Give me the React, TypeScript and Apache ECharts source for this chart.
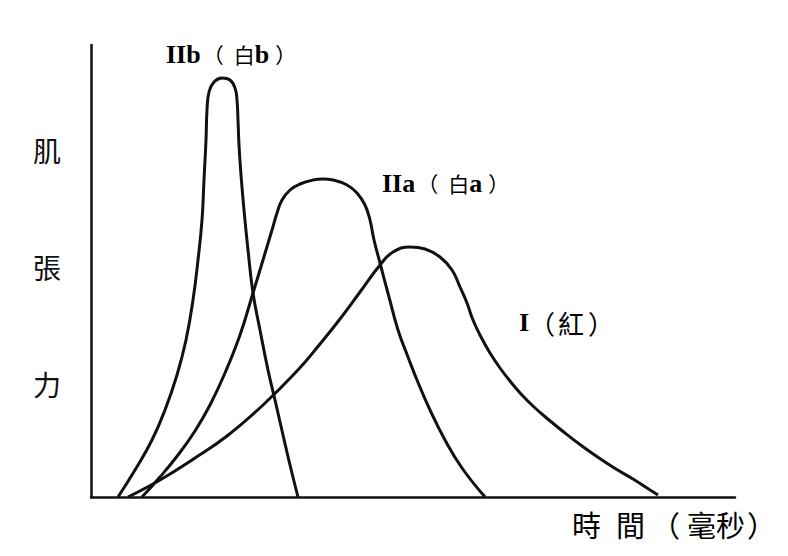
import React, { useEffect, useRef } from 'react';
import * as echarts from 'echarts';

// Muscle tension curves (time in arbitrary units, tension in arbitrary units)
const curveIIb: [number, number][] = [
  [27, 0], [44, 27], [61, 57], [74, 87], [86, 122], [95, 157], [102, 197], [107, 237],
  [111, 277], [113, 317], [115, 357], [116, 387], [118, 405], [123, 415], [131, 419],
  [139, 417], [144, 409], [146, 397], [147, 377], [148, 352], [150, 322], [153, 287],
  [157, 247], [162, 204], [169, 167], [177, 127], [184, 97], [192, 62], [199, 32], [207, 0],
];
const curveIIa: [number, number][] = [
  [51, 0], [69, 20], [87, 42], [104, 66], [119, 92], [134, 124], [149, 162], [162, 204],
  [172, 237], [181, 267], [186, 284], [191, 297], [199, 307], [209, 313], [222, 317],
  [232, 318], [242, 317], [256, 312], [266, 304], [274, 292], [279, 277], [283, 257],
  [289, 234], [298, 200], [307, 167], [317, 140], [326, 117], [339, 87], [354, 57],
  [371, 29], [394, 0],
];
const curveI: [number, number][] = [
  [37, 0], [69, 17], [104, 39], [136, 61], [171, 91], [206, 126], [229, 153], [249, 178],
  [269, 205], [289, 232], [302, 245], [319, 250], [334, 248], [349, 240], [361, 227],
  [369, 210], [376, 194], [382, 177], [390, 160], [399, 144], [409, 129], [419, 116],
  [430, 103], [443, 90], [458, 77], [474, 64], [491, 51], [508, 39], [525, 28], [542, 18],
  [556, 9], [567, 2],
];
const yLabelChars = ['肌', '張', '力'];

const CJK = "'Noto Sans CJK TC', 'Noto Sans CJK JP', sans-serif";
const SERIF = "'Liberation Serif', 'DejaVu Serif', serif";

export default function App() {
  const ref = useRef<HTMLDivElement>(null);
  useEffect(() => {
    document.body.style.margin = '0';
    const chart = echarts.init(ref.current!, null, { renderer: 'svg' });
    const lineSeries = (name: string, data: [number, number][]) => ({
      type: 'line',
      name,
      data,
      smooth: 0.45,
      symbol: 'none',
      lineStyle: { color: '#111', width: 3 },
    });
    const rich = {
      r: { fontFamily: SERIF, fontWeight: 'bold', fontSize: 26, color: '#111', verticalAlign: 'middle' },
      c: { fontFamily: CJK, fontSize: 21, color: '#111', verticalAlign: 'middle' },
      o: { fontFamily: CJK, fontSize: 21, color: '#111', verticalAlign: 'middle', padding: [0, 10, 0, 2] },
      e: { fontFamily: CJK, fontSize: 21, color: '#111', verticalAlign: 'middle', padding: [0, 0, 0, 6] },
      a: { fontFamily: CJK, fontSize: 29, color: '#111', verticalAlign: 'middle' },
      s: { fontFamily: CJK, fontSize: 29, color: '#111', verticalAlign: 'middle', width: 15 },
      po: { fontFamily: CJK, fontSize: 29, color: '#111', verticalAlign: 'middle', padding: [0, 7, 0, 6] },
      pc: { fontFamily: CJK, fontSize: 29, color: '#111', verticalAlign: 'middle', padding: [0, 0, 0, 2] },
      io: { fontFamily: CJK, fontSize: 26, color: '#111', verticalAlign: 'middle', padding: [0, 3, 0, 0] },
      ic: { fontFamily: CJK, fontSize: 26, color: '#111', verticalAlign: 'middle', padding: [0, 0, 0, 4] },
      k: { fontFamily: CJK, fontSize: 26, color: '#111', verticalAlign: 'middle' },
    };
    const yPos = [150, 267, 384];
    chart.setOption({
      animation: false,
      backgroundColor: '#fff',
      grid: { left: 91, right: 53, top: 45, bottom: 59 },
      xAxis: {
        type: 'value', min: 0, max: 644,
        axisLine: { show: true, lineStyle: { color: '#111', width: 2.5 } },
        axisTick: { show: false }, axisLabel: { show: false }, splitLine: { show: false },
      },
      yAxis: {
        type: 'value', min: 0, max: 452,
        axisLine: { show: true, lineStyle: { color: '#111', width: 2.5 } },
        axisTick: { show: false }, axisLabel: { show: false }, splitLine: { show: false },
      },
      series: [
        lineSeries('IIb', curveIIb),
        lineSeries('IIa', curveIIa),
        lineSeries('I', curveI),
      ],
      graphic: [
        {
          type: 'text', x: 166, y: 54,
          style: { text: '{r|IIb}{o|（}{c|白}{r|b}{e|）}', rich, verticalAlign: 'middle' },
        },
        {
          type: 'text', x: 382, y: 183,
          style: { text: '{r|IIa}{o|（}{c|白}{r|a}{e|）}', rich, verticalAlign: 'middle' },
        },
        {
          type: 'text', x: 519, y: 322,
          style: { text: '{r|I}{io|（}{k|紅}{ic|）}', rich, verticalAlign: 'middle' },
        },
        ...yLabelChars.map((ch, i) => ({
          type: 'text', x: 47, y: yPos[i],
          style: {
            text: ch, font: `28px ${CJK}`, fill: '#111',
            align: 'center', verticalAlign: 'middle',
          },
        })),
        {
          type: 'text', x: 572, y: 524,
          style: {
            text: '{a|時}{s| }{a|間}{po|（}{a|毫秒}{pc|）}', rich,
            align: 'left', verticalAlign: 'middle',
          },
        },
      ],
    });
    return () => chart.dispose();
  }, []);
  return <div ref={ref} style={{ width: 788, height: 556 }} />;
}
